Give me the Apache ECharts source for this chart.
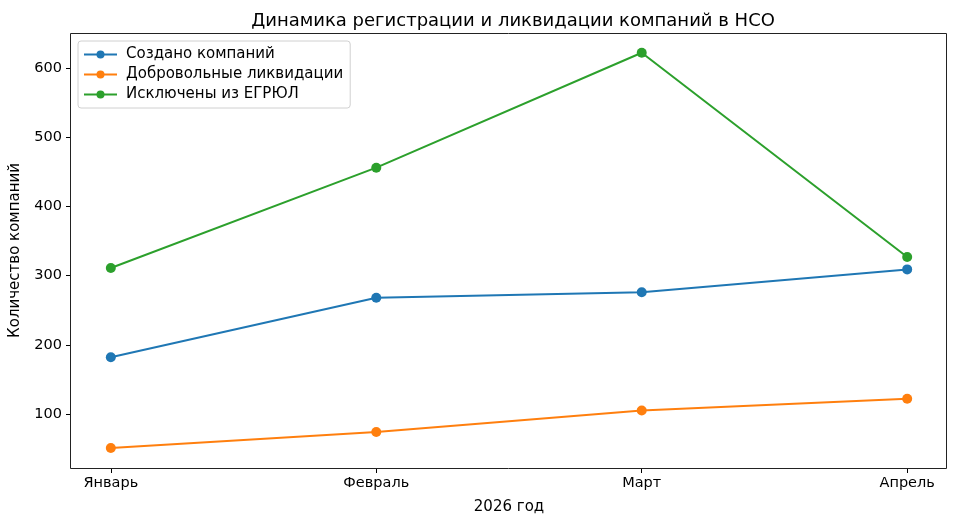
<!DOCTYPE html>
<html>
<head>
<meta charset="utf-8">
<script src="https://cdn.jsdelivr.net/npm/echarts@6/dist/echarts.min.js"></script>
<style>
  html, body { margin: 0; padding: 0; background: #fff; }
  #chartmain { width: 957px; height: 526px; }
</style>
</head>
<body>
<div id="chartmain"></div>
<script>
var months = ['Январь', 'Февраль', 'Март', 'Апрель'];
var created = [182, 268, 276, 309];
var voluntary = [51, 74, 105, 122];
var excluded = [311, 456, 622, 327];
var yTicks = [100, 200, 300, 400, 500, 600];

var font = 'DejaVu Sans';

// категории -> пары [индекс, значение]
function toPairs(arr) {
    var out = [];
    for (var i = 0; i < arr.length; i++) {
        out.push([i, arr[i]]);
    }
    return out;
}

function lineSeries(name, color, values) {
    return {
        name: name,
        type: 'line',
        data: toPairs(values),
        symbol: 'circle',
        symbolSize: 10,
        lineStyle: { color: color, width: 2 },
        itemStyle: { color: color },
        emphasis: { disabled: true }
    };
}

var monthIdx = [];
for (var i = 0; i < months.length; i++) monthIdx.push(i);

option = {
    animation: false,
    backgroundColor: '#fff',
    textStyle: { fontFamily: font },
    title: {
        text: 'Динамика регистрации и ликвидации компаний в НСО',
        left: 508,
        top: 7,
        textAlign: 'center',
        textStyle: { fontFamily: font, fontSize: 18, fontWeight: 'normal', color: '#000' }
    },
    legend: {
        orient: 'vertical',
        left: 78,
        top: 41,
        itemWidth: 33,
        itemHeight: 10,
        itemGap: 5,
        padding: [6, 7, 6, 5],
        backgroundColor: 'rgba(255,255,255,0.8)',
        borderColor: '#d0d0d0',
        borderWidth: 1,
        borderRadius: 3,
        textStyle: { fontFamily: font, fontSize: 15, color: '#000', padding: [0, 0, 0, 4] },
        data: ['Создано компаний', 'Добровольные ликвидации', 'Исключены из ЕГРЮЛ']
    },
    grid: {
        left: 70,
        right: 10,
        top: 33,
        bottom: 58
    },
    xAxis: {
        type: 'value',
        min: -0.15,
        max: 3.15,
        name: '2026 год',
        nameLocation: 'middle',
        nameGap: 32,
        nameTextStyle: { fontFamily: font, fontSize: 15, color: '#000' },
        splitLine: { show: false },
        axisLine: { show: false, onZero: false },
        axisTick: { show: true, inside: false, length: 5, customValues: monthIdx, lineStyle: { color: '#000' } },
        axisLabel: {
            customValues: monthIdx,
            fontFamily: font, fontSize: 14.5, color: '#000', margin: 8,
            formatter: function (v) { return months[Math.round(v)]; }
        }
    },
    yAxis: {
        type: 'value',
        min: 22,
        max: 650.6,
        name: 'Количество компаний',
        nameLocation: 'middle',
        nameGap: 48,
        nameRotate: 90,
        nameTextStyle: { fontFamily: font, fontSize: 15, color: '#000' },
        splitLine: { show: false },
        axisLine: { show: false, onZero: false },
        axisTick: { show: true, inside: false, length: 5, customValues: yTicks, lineStyle: { color: '#000' } },
        axisLabel: {
            customValues: yTicks,
            fontFamily: font, fontSize: 14.5, color: '#000', margin: 9
        }
    },
    series: [
        lineSeries('Создано компаний', '#1f77b4', created),
        lineSeries('Добровольные ликвидации', '#ff7f0e', voluntary),
        lineSeries('Исключены из ЕГРЮЛ', '#2ca02c', excluded)
    ]
};

// рамка графика
option.graphic = [{
    type: 'rect',
    shape: { x: 70.5, y: 33.5, width: 876, height: 435 },
    style: { fill: null, stroke: '#222', lineWidth: 1 },
    silent: true,
    z: 100
}];

var myChart = echarts.init(document.getElementById('chartmain'));
myChart.setOption(option);
</script>
</body>
</html>
